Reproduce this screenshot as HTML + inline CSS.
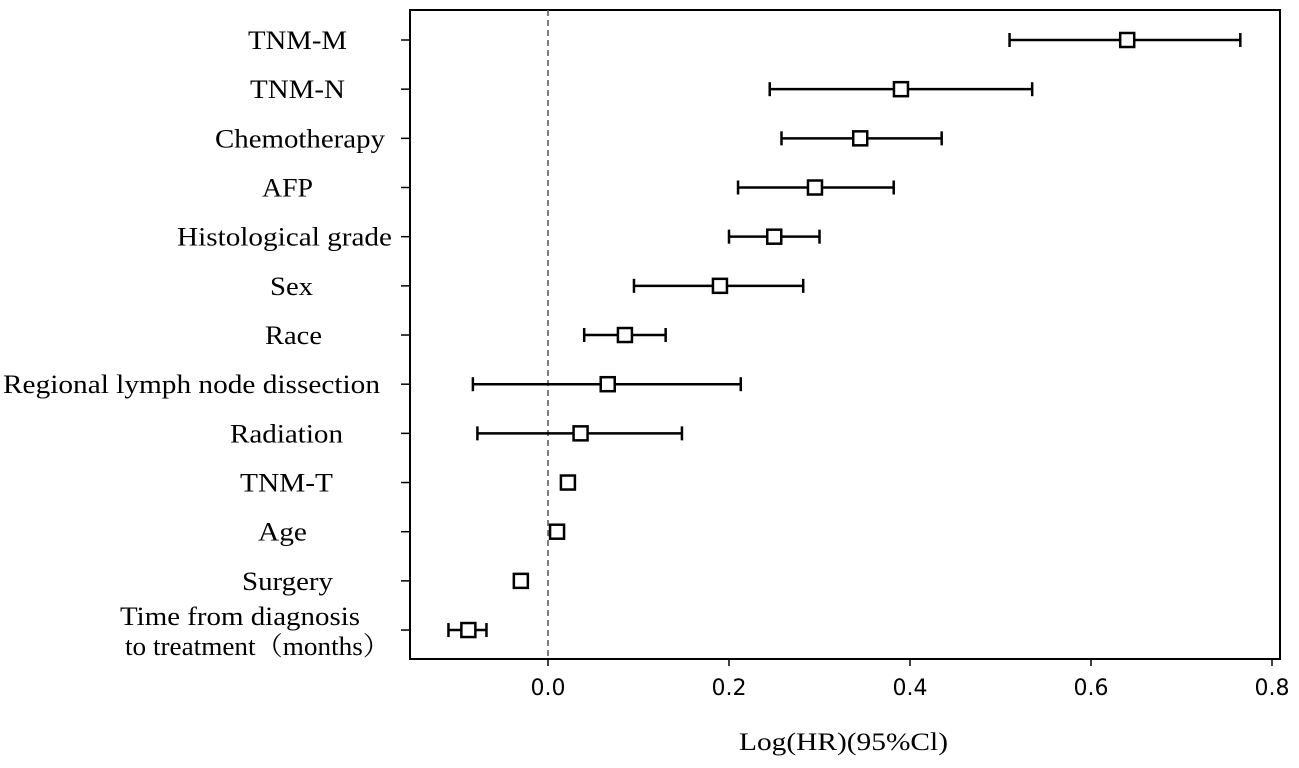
<!DOCTYPE html>
<html><head><meta charset="utf-8"><style>
body{margin:0;background:#fff;}
svg text{font-family:"Liberation Serif","Noto Serif CJK SC",serif;}
.tick{font-family:"DejaVu Sans",sans-serif;font-size:22px;}
</style></head><body>
<svg id="chart" width="1299" height="763">
<rect x="410" y="10" width="870" height="649" fill="none" stroke="#000" stroke-width="2"/>
<line x1="548" y1="10" x2="548" y2="659" stroke="#555" stroke-width="1.5" stroke-dasharray="6,4"/>
<g id="marks"></g>
<text x="739" y="750" font-size="25" textLength="209" lengthAdjust="spacingAndGlyphs">Log(HR)(95%Cl)</text>
</svg>
<script>
const categories=["TNM-M","TNM-N","Chemotherapy","AFP","Histological grade","Sex","Race","Regional lymph node dissection","Radiation","TNM-T","Age","Surgery","Time from diagnosis|to treatment（months）"];
const estimates=[0.64,0.39,0.345,0.295,0.25,0.19,0.085,0.066,0.036,0.022,0.01,-0.03,-0.088];
const lower=[0.51,0.245,0.258,0.21,0.2,0.095,0.04,-0.083,-0.078,null,null,null,-0.11];
const upper=[0.765,0.535,0.435,0.382,0.3,0.282,0.13,0.213,0.148,null,null,null,-0.068];
const xTicks=[0.0,0.2,0.4,0.6,0.8];
const labelLeft=[248,250,215,262,177,270,265,3,230,240,258,242,120];
const labelRight=[347,345,385,313,392,313,322,380,343,333,307,333,360];
const NS="http://www.w3.org/2000/svg";
const X=v=>548+v*905;
const Y=i=>40+i*49.17;
const g=document.getElementById('marks');
function mk(t,a){const e=document.createElementNS(NS,t);for(const k in a)e.setAttribute(k,a[k]);g.appendChild(e);return e;}
xTicks.forEach(t=>{
  const l=mk('line',{x1:X(t),x2:X(t),y1:659,y2:666,stroke:'#000','stroke-width':1.5});
  
  
  const tx=mk('text',{x:X(t),y:695,'text-anchor':'middle',class:'tick'});
  tx.textContent=t.toFixed(1);
  
  
});
categories.forEach((c,i)=>{
  const y=Y(i);
  const tk=mk('line',{x1:401,x2:410,y1:y,y2:y,stroke:'#000','stroke-width':1.5});
  
  
  const parts=c.split('|');
  if(parts.length===1){
    const t=mk('text',{x:labelLeft[i],y:y+9,'font-size':26,textLength:labelRight[i]-labelLeft[i],lengthAdjust:'spacingAndGlyphs'});
    t.textContent=c;
    
    
  }else{
    const t1=mk('text',{x:labelLeft[i],y:y-5,'font-size':26,textLength:labelRight[i]-labelLeft[i],lengthAdjust:'spacingAndGlyphs'});t1.textContent=parts[0];
    
    
    const t2=mk('text',{x:125,y:y+25,'font-size':26,textLength:265,lengthAdjust:'spacingAndGlyphs'});t2.textContent=parts[1];
    
    
  }
  if(lower[i]!==null){
    const ln=mk('line',{x1:X(lower[i]),x2:X(upper[i]),y1:y,y2:y,stroke:'#000','stroke-width':2.5});
    
    
    [lower[i],upper[i]].forEach(v=>{
      const cap=mk('line',{x1:X(v),x2:X(v),y1:y-7,y2:y+7,stroke:'#000','stroke-width':2.5});
      
      
    });
  }
  const r=mk('rect',{x:X(estimates[i])-7,y:y-7,width:14,height:14,fill:'#fff',stroke:'#000','stroke-width':2.5});
  
  
});
</script>
</body></html>
